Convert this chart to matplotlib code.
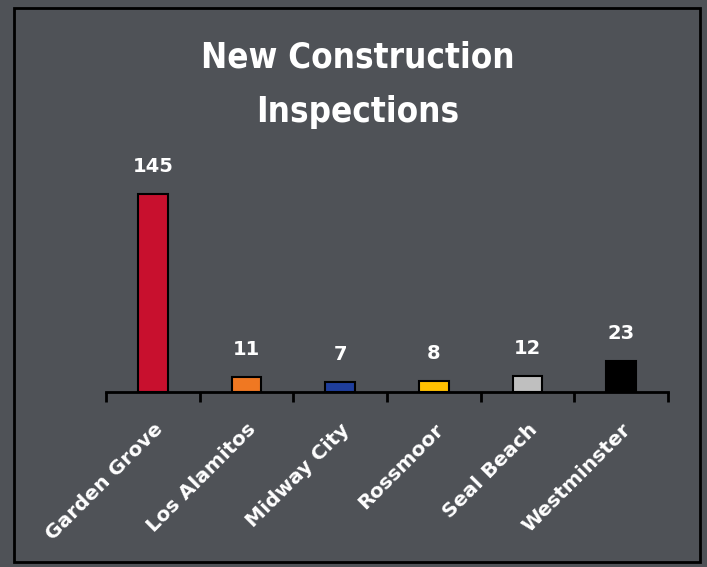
import matplotlib.pyplot as plt
from matplotlib.patches import Rectangle

cities = ["Garden Grove", "Los Alamitos", "Midway City", "Rossmoor", "Seal Beach", "Westminster"]
inspections = [145, 11, 7, 8, 12, 23]
colors = ["#C8102E", "#F07822", "#1F3E9C", "#FFC000", "#BFBFBF", "#000000"]

bg = "#4f5257"
W, H = 707, 567
fig = plt.figure(figsize=(W / 100, H / 100), dpi=100, facecolor=bg)

# axes placed in pixel terms: x 106..668, baseline at y=392
ax = fig.add_axes([106 / W, 1 - 392 / H, (668 - 106) / W, (392 - 160) / H])
ax.set_facecolor(bg)

x = range(len(cities))
ax.bar(x, inspections, width=0.32, color=colors, edgecolor="black", linewidth=1.5, zorder=3)
ax.set_xlim(-0.5, len(cities) - 0.5)
ax.set_ylim(0, 170)

for i, v in enumerate(inspections):
    ax.annotate(str(v), (i, v), xytext=(0, 13), textcoords="offset points",
                ha="center", va="bottom", color="white", fontsize=14, fontweight="bold")

for s in ["top", "right", "left"]:
    ax.spines[s].set_visible(False)
ax.spines["bottom"].set_color("black")
ax.spines["bottom"].set_linewidth(2)
ax.set_yticks([])

ax.set_xticks(list(x))
ax.set_xticklabels(cities, rotation=45, ha="right", rotation_mode="anchor",
                   color="white", fontsize=14.5, fontweight="bold")
ax.tick_params(axis="x", which="major", length=0, pad=20)
ax.set_xticks([i - 0.5 for i in range(len(cities) + 1)], minor=True)
ax.tick_params(axis="x", which="minor", length=7, width=2, color="black", direction="out")

title_font = dict(ha="center", va="center", color="white", fontsize=25, fontweight="bold",
                  fontstretch="condensed", family=["DejaVu Sans"])
fig.text(0.506, 1 - 58 / H, "New Construction", **title_font)
fig.text(0.506, 1 - 112 / H, "Inspections", **title_font)

fig.patches.append(Rectangle((14 / W, 1 - 562 / H), (700 - 14) / W, (562 - 8) / H,
                             transform=fig.transFigure, fill=False, edgecolor="black", linewidth=2))

fig.savefig("out.png", dpi=100, facecolor=bg)
